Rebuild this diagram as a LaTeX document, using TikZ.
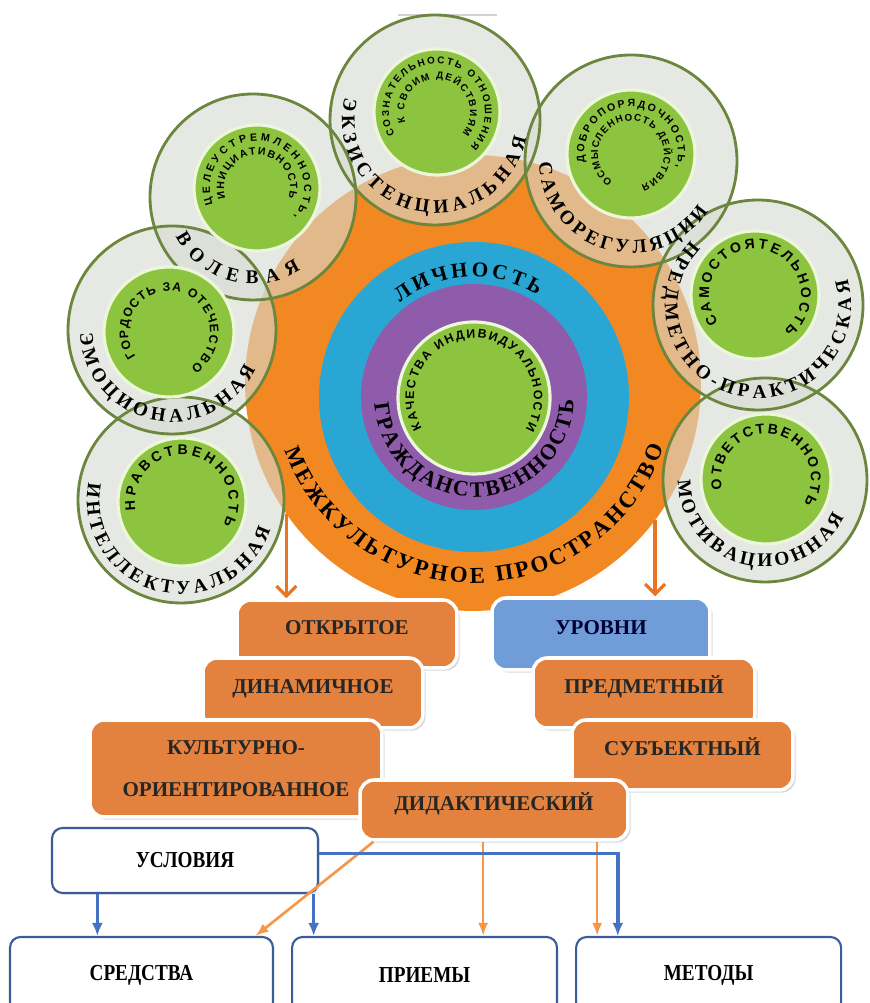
\documentclass[tikz,border=0pt]{standalone}
\usepackage{fontspec}
\setmainfont{Liberation Serif}
\newfontfamily\greenfont{Liberation Sans}
\newfontfamily\condfont[FakeStretch=0.84]{Liberation Serif}
\usetikzlibrary{
  positioning,
  arrows.meta,
  calc,
  decorations.text,
  shadows
}

\definecolor{spaceor}{RGB}{242,136,34}
\definecolor{lichblue}{RGB}{41,166,212}
\definecolor{grazhpur}{RGB}{142,92,170}
\definecolor{leafgreen}{RGB}{141,196,63}
\definecolor{leafrim}{RGB}{236,246,218}
\definecolor{rimgreen}{RGB}{108,134,62}
\definecolor{ringgray}{RGB}{214,218,208}
\definecolor{boxor}{RGB}{226,130,62}
\definecolor{levblue}{RGB}{112,157,215}
\definecolor{framblue}{RGB}{58,92,152}
\definecolor{arrblue}{RGB}{70,114,196}
\definecolor{arror}{RGB}{247,150,70}
\definecolor{toparr}{RGB}{232,116,36}

\begin{document}
\begin{tikzpicture}[
  x=0.02cm, y=0.02cm,
  ring/.style={fill=ringgray, fill opacity=0.6},
  rim/.style={draw=rimgreen, line width=1.6pt},
  core/.style={fill=leafgreen, draw=leafrim, line width=1.8pt},
  ringlab/.style={decorate, decoration={text along path, text align={fit to path},
    text={|\fontsize{11}{13}\selectfont\bfseries|#1}}},
  corelab/.style 2 args={decorate, decoration={text along path, text align={fit to path},
    text={|\greenfont\fontsize{#1}{#1}\selectfont\bfseries|#2}}},
  biglab/.style 2 args={decorate, decoration={text along path, text align={fit to path},
    text={|\fontsize{#1}{#1}\selectfont\bfseries|#2}}},
  obox/.style={rectangle, rounded corners=8pt, fill=boxor, draw=white, line width=2pt,
    minimum height=1.4cm, text height=8pt, text depth=7pt, text=black!85,
    font=\fontsize{12}{14}\selectfont\bfseries,
    drop shadow={opacity=0.3, shadow xshift=1.5pt, shadow yshift=-1.5pt}},
  wbox/.style={rectangle, rounded corners=6pt, fill=white, draw=framblue, line width=1.2pt,
    minimum height=1.52cm, font=\condfont\fontsize{13}{15}\selectfont\bfseries},
  barrow/.style={draw=arrblue, line width=2pt, -{Latex[length=2.6mm, width=2.2mm]}},
  oarrow/.style={draw=arror, line width=1.5pt, -{Latex[length=2.6mm, width=2mm]}},
  tarrow/.style={draw=toparr, line width=1.8pt, -{Straight Barb[length=2mm, width=4mm]}}
]
\useasboundingbox (0,0) rectangle (869,1003);
\draw[gray!35, line width=0.8pt] (398,988) -- (497,988);

% intercultural space and personality
\node[circle, fill=spaceor, minimum size=9.12cm, inner sep=0pt, outer sep=0pt] (space) at (473,620) {};
\fill[lichblue] (474,606) circle[radius=155];
\fill[grazhpur] (474,606) circle[radius=113];
\filldraw[core] (474,605) circle[radius=76];

% outer rings
\fill[ring] (253,806) circle[radius=103];
\fill[ring] (435,883) circle[radius=105];
\fill[ring] (631,842) circle[radius=106];
\fill[ring] (758,698) circle[radius=105];
\fill[ring] (765,523) circle[radius=102];
\fill[ring] (172,673) circle[radius=104];
\fill[ring] (181,503) circle[radius=103];
\draw[rim] (253,806) circle[radius=103];
\draw[rim] (435,883) circle[radius=105];
\draw[rim] (631,842) circle[radius=106];
\draw[rim] (758,698) circle[radius=105];
\draw[rim] (765,523) circle[radius=102];
\draw[rim] (172,673) circle[radius=104];
\draw[rim] (181,503) circle[radius=103];
\filldraw[core] (257,815) circle[radius=63];
\filldraw[core] (437,891) circle[radius=63];
\filldraw[core] (631,849) circle[radius=64];
\filldraw[core] (755,708) circle[radius=64];
\filldraw[core] (766,524) circle[radius=65];
\filldraw[core] (169,671) circle[radius=65];
\filldraw[core] (182,501) circle[radius=64];

% ring labels
\path[ringlab=ВОЛЕВАЯ] (253,806) ++(207:87) arc[start angle=207, end angle=303, radius=87];
\path[ringlab=ЭКЗИСТЕНЦИАЛЬНАЯ] (435,883) ++(166:93) arc[start angle=166, end angle=349, radius=93];
\path[ringlab=САМОРЕГУЛЯЦИИ] (631,842) ++(181:92) arc[start angle=181, end angle=327, radius=92];
\path[ringlab=ПРЕДМЕТНО-ПРАКТИЧЕСКАЯ] (758,698) ++(136:93) arc[start angle=136, end angle=376, radius=93];
\path[ringlab=МОТИВАЦИОННАЯ] (765,523) ++(180:87) arc[start angle=180, end angle=335, radius=87];
\path[ringlab=ЭМОЦИОНАЛЬНАЯ] (172,673) ++(182:92) arc[start angle=182, end angle=335, radius=92];
\path[ringlab=ИНТЕЛЛЕКТУАЛЬНАЯ] (181,503) ++(169:94) arc[start angle=169, end angle=342, radius=94];

% qualities
\path[corelab={6}{ЦЕЛЕУСТРЕМЛЕННОСТЬ{,}}] (257,815) ++(200:47) arc[start angle=200, end angle=-38, radius=47];
\path[corelab={6}{ИНИЦИАТИВНОСТЬ}] (257,815) ++(198:33) arc[start angle=198, end angle=-18, radius=33];
\path[corelab={5.6}{СОЗНАТЕЛЬНОСТЬ ОТНОШЕНИЯ}] (437,891) ++(208:48) arc[start angle=208, end angle=-46, radius=48];
\path[corelab={5.6}{К СВОИМ ДЕЙСТВИЯМ}] (437,891) ++(198:33) arc[start angle=198, end angle=-40, radius=33];
\path[corelab={6}{ДОБРОПОРЯДОЧНОСТЬ{,}}] (631,849) ++(190:47) arc[start angle=190, end angle=-16, radius=47];
\path[corelab={5.6}{ОСМЫСЛЕННОСТЬ ДЕЙСТВИЯ}] (631,849) ++(236:33) arc[start angle=236, end angle=-72, radius=33];
\path[corelab={8}{САМОСТОЯТЕЛЬНОСТЬ}] (755,708) ++(217:46) arc[start angle=217, end angle=-51, radius=46];
\path[corelab={8}{ОТВЕТСТВЕННОСТЬ}] (766,524) ++(193:45) arc[start angle=193, end angle=-33, radius=45];
\path[corelab={7}{ГОРДОСТЬ ЗА ОТЕЧЕСТВО}] (169,671) ++(216:41) arc[start angle=216, end angle=-58, radius=41];
\path[corelab={8}{НРАВСТВЕННОСТЬ}] (182,501) ++(190:47) arc[start angle=190, end angle=-29, radius=47];
\path[corelab={7}{КАЧЕСТВА ИНДИВИДУАЛЬНОСТИ}] (474,605) ++(210:60) arc[start angle=210, end angle=-31, radius=60];

% centre labels
\path[biglab={12}{ЛИЧНОСТЬ}] (474,606) ++(128:120) arc[start angle=128, end angle=58, radius=120];
\path[biglab={12.5}{ГРАЖДАНСТВЕННОСТЬ}] (474,606) ++(184:100) arc[start angle=184, end angle=358, radius=100];
\path[biglab={13}{МЕЖКУЛЬТУРНОЕ ПРОСТРАНСТВО}] (474,621) ++(200:201) arc[start angle=200, end angle=341, radius=201];

% space features and levels
\node[obox, minimum width=4.4cm, minimum height=1.36cm] (otkr) at (347,369) {ОТКРЫТОЕ};
\node[obox, fill=levblue, text=blue!20!black, minimum width=4.36cm, minimum height=1.44cm] (urov) at (601,369) {УРОВНИ};
\node[obox, minimum width=4.4cm] (dinam) at (313,310) {ДИНАМИЧНОЕ};
\node[obox, minimum width=4.44cm] (predm) at (644,310) {ПРЕДМЕТНЫЙ};
\node[obox, minimum width=5.84cm, minimum height=1.94cm, align=center, text height={}, text depth={},
  font=\fontsize{12}{24}\selectfont\bfseries] (kult) at (236,234.5) {КУЛЬТУРНО-\\ОРИЕНТИРОВАННОЕ};
\node[obox, minimum width=4.42cm] (subj) at (682.5,248) {СУБЪЕКТНЫЙ};
\node[obox, minimum width=5.36cm, minimum height=1.2cm] (did) at (494,193) {ДИДАКТИЧЕСКИЙ};

\draw[tarrow] (space.215) -- (space.215 |- otkr.north);
\draw[tarrow] (space.-37) -- (space.-37 |- urov.north);

% conditions, means, techniques, methods
\node[wbox, minimum width=5.32cm, minimum height=1.3cm,
  drop shadow={opacity=0.25, shadow xshift=1pt, shadow yshift=-1pt}] (usl) at (185,142.5) {УСЛОВИЯ};
\node[wbox, minimum width=5.26cm] (sred) at (141.5,28) {СРЕДСТВА};
\node[wbox, minimum width=5.3cm, right=0.34cm of sred] (prim) {ПРИЕМЫ};
\node[wbox, minimum width=5.3cm, right=0.34cm of prim] (metod) {МЕТОДЫ};

% Arrows
\coordinate (dA) at ($(did.south west)!0.056!(did.south east)$);
\coordinate (dB) at ($(did.south west)!0.46!(did.south east)$);
\coordinate (dC) at ($(did.south west)!0.88!(did.south east)$);
\coordinate (sA) at ($(sred.north west)!0.93!(sred.north east)$);
\draw[oarrow] (dA) -- (sA);
\draw[oarrow] (dB) -- (dB |- prim.north);
\draw[oarrow] (dC) -- (dC |- metod.north);

\coordinate (uA) at ($(usl.south west)!0.173!(usl.south east)$);
\coordinate (uB) at ($(usl.south west)!0.98!(usl.south east)$);
\coordinate (uC) at ($(usl.east)+(0,7)$);
\coordinate (mA) at ($(metod.north west)!0.16!(metod.north east)$);
\draw[barrow] (uA) -- (uA |- sred.north);
\draw[barrow] (uB) -- (uB |- prim.north);
\draw[barrow] (uC) -| (mA);

\end{tikzpicture}
\end{document}
